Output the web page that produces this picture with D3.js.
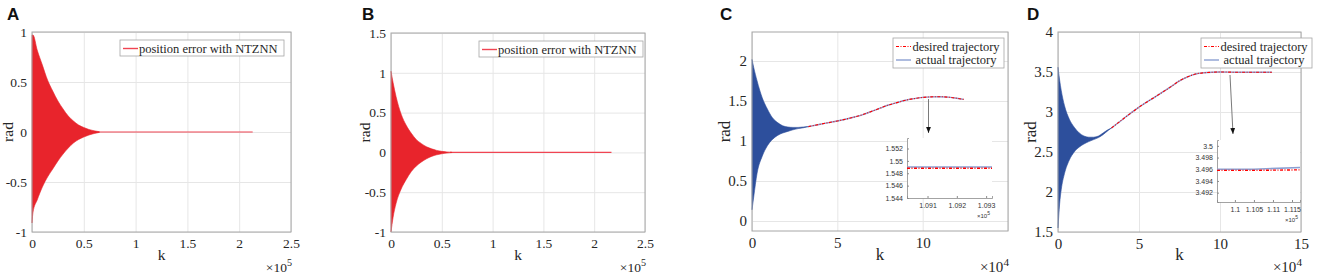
<!DOCTYPE html>
<html>
<head>
<meta charset="utf-8">
<script src="https://cdn.jsdelivr.net/npm/d3@7"></script>
<style>
  body { margin: 0; background: #fff; }
</style>
</head>
<body>
<svg id="fig" width="1325" height="277"></svg>
<script>
// ---- panel A : position error (k in 1e5) ----
const aEnvK   = [0, 0.01, 0.05, 0.1, 0.15, 0.2, 0.25, 0.3, 0.35, 0.4, 0.45, 0.5, 0.55, 0.6, 0.65];
const aUpper  = [0.97, 0.97, 0.82, 0.67, 0.52, 0.41, 0.31, 0.23, 0.16, 0.11, 0.07, 0.045, 0.025, 0.012, 0.003];
const aLower  = [-0.91, -0.80, -0.68, -0.55, -0.45, -0.37, -0.29, -0.22, -0.16, -0.11, -0.075, -0.05, -0.03, -0.015, -0.004];
const aTailK  = [0.62, 2.13];
const aTailV  = [0, 0];

// ---- panel B ----
const bEnvK   = [0, 0.02, 0.05, 0.1, 0.15, 0.2, 0.25, 0.3, 0.35, 0.4, 0.45, 0.5, 0.55, 0.6];
const bUpper  = [1.02, 0.88, 0.70, 0.48, 0.34, 0.24, 0.16, 0.11, 0.07, 0.045, 0.025, 0.013, 0.006, 0.002];
const bLower  = [-1.0, -0.82, -0.64, -0.46, -0.34, -0.24, -0.17, -0.12, -0.08, -0.05, -0.03, -0.017, -0.008, -0.002];
const bTailK  = [0.58, 2.17];
const bTailV  = [0, 0];

// ---- panel C : trajectory (k in 1e4) ----
const cEnvK   = [0, 0.1, 0.3, 0.6, 0.9, 1.2, 1.5, 1.8, 2.1, 2.4, 2.7, 3.0, 3.3];
const cUpper  = [2.02, 1.92, 1.75, 1.54, 1.40, 1.29, 1.23, 1.19, 1.175, 1.17, 1.17, 1.175, 1.18];
const cLower  = [0.14, 0.30, 0.60, 0.81, 0.94, 1.02, 1.07, 1.10, 1.12, 1.14, 1.155, 1.165, 1.18];
const cTrajK  = [3.3, 4, 5, 6, 6.5, 7, 7.5, 8, 8.5, 9, 9.5, 10, 10.5, 11, 11.5, 12, 12.4];
const cTrajV  = [1.18, 1.21, 1.25, 1.30, 1.33, 1.37, 1.41, 1.45, 1.48, 1.51, 1.53, 1.545, 1.552, 1.554, 1.548, 1.535, 1.52];
const cInK       = [1.0903, 1.0932];          // inset, k in 1e5
const cInActual  = [1.549, 1.549];
const cInDesired = [1.5488, 1.5488];

// ---- panel D ----
const dEnvK   = [0, 0.1, 0.2, 0.4, 0.7, 1.0, 1.3, 1.6, 1.9, 2.2, 2.5, 2.8, 3.1, 3.3];
const dUpper  = [3.56, 3.40, 3.27, 3.08, 2.91, 2.81, 2.74, 2.70, 2.685, 2.685, 2.70, 2.74, 2.78, 2.80];
const dLower  = [1.55, 1.85, 2.03, 2.23, 2.40, 2.50, 2.56, 2.60, 2.63, 2.655, 2.68, 2.72, 2.77, 2.80];
const dTrajK  = [3.3, 4, 5, 6, 7, 7.5, 8, 8.5, 9, 9.5, 10, 11, 12, 13.2];
const dTrajV  = [2.80, 2.91, 3.06, 3.19, 3.32, 3.39, 3.44, 3.475, 3.49, 3.497, 3.5, 3.497, 3.496, 3.496];
const dInK       = [1.0953, 1.105, 1.1171];
const dInActual  = [3.496, 3.496, 3.4963];
const dInDesired = [3.4958, 3.4958, 3.4959];

// ticks
const abXTicks = [0, 0.5, 1, 1.5, 2, 2.5];
const aYTicks  = [-1, -0.5, 0, 0.5, 1];
const bYTicks  = [-1, -0.5, 0, 0.5, 1, 1.5];
const cXTicks  = [0, 5, 10, 15];
const cYTicks  = [0, 0.5, 1, 1.5, 2];
const dXTicks  = [0, 5, 10, 15];
const dYTicks  = [1.5, 2, 2.5, 3, 3.5, 4];

const SERIF = "'Liberation Serif', 'Times New Roman', serif";
const SANS = "'Liberation Sans', Arial, sans-serif";
const RED_FILL = "#e8242c", RED_LINE = "#f04452", BLUE_FILL = "#2d4f9c", BLUE_LINE = "#8b9fd2";
const DASHDOT = "3,1.5,1,1.5";

const svg = d3.select("#fig");
const defs = svg.append("defs");
defs.append("marker").attr("id", "arrow").attr("viewBox", "0 0 10 10")
  .attr("refX", 10).attr("refY", 5).attr("markerWidth", 6).attr("markerHeight", 6)
  .attr("orient", "auto-start-reverse")
  .append("path").attr("d", "M0,1 L10,5 L0,9 z").attr("fill", "#111");

const fmt = d => String(d);

function serifText(sel, size) {
  return sel.style("font-family", SERIF).style("font-size", size + "px").attr("fill", "#262626");
}

function panel(p) {
  const g = svg.append("g");
  const x = d3.scaleLinear().domain(p.xDomain).range([p.left, p.right]);
  const y = d3.scaleLinear().domain(p.yDomain).range([p.bottom, p.top]);
  const w = p.right - p.left, h = p.bottom - p.top;

  // grid
  const gx = g.append("g").attr("transform", `translate(0,${p.bottom})`)
    .call(d3.axisBottom(x).tickValues(p.xTicks).tickSize(-h).tickFormat(""));
  const gy = g.append("g").attr("transform", `translate(${p.left},0)`)
    .call(d3.axisLeft(y).tickValues(p.yTicks).tickSize(-w).tickFormat(""));
  [gx, gy].forEach(a => {
    a.select(".domain").remove();
    a.selectAll("line").attr("stroke", "#e6e6e6");
  });

  // tick labels
  const lx = g.append("g").attr("transform", `translate(0,${p.bottom})`)
    .call(d3.axisBottom(x).tickValues(p.xLabels || p.xTicks).tickSize(0).tickPadding(6).tickFormat(fmt));
  const ly = g.append("g").attr("transform", `translate(${p.left},0)`)
    .call(d3.axisLeft(y).tickValues(p.yTicks).tickSize(0).tickPadding(5).tickFormat(fmt));
  [lx, ly].forEach(a => {
    a.select(".domain").remove();
    serifText(a.selectAll("text"), p.fs);
  });

  // data
  const env = p.envK.map((k, i) => ({ k, hi: p.upper[i], lo: p.lower[i] }));
  const line = d3.line().x(d => x(d[0])).y(d => y(d[1])).curve(d3.curveMonotoneX);
  if (p.traj) {
    const tr = d3.zip(p.trajK, p.trajV);
    g.append("path").attr("d", line(tr)).attr("fill", "none").attr("stroke", BLUE_LINE).attr("stroke-width", 1.4);
    g.append("path").attr("d", line(tr)).attr("fill", "none").attr("stroke", "#ff0000")
      .attr("stroke-width", 1.1).attr("stroke-dasharray", DASHDOT);
  }
  if (p.tailK) {
    g.append("path").attr("d", line(d3.zip(p.tailK, p.tailV))).attr("fill", "none")
      .attr("stroke", RED_LINE).attr("stroke-width", 1.2);
  }
  g.append("path").datum(env)
    .attr("d", d3.area().x(d => x(d.k)).y0(d => y(d.lo)).y1(d => y(d.hi)).curve(d3.curveMonotoneX))
    .attr("fill", p.fill).attr("stroke", p.fill).attr("stroke-width", 0.6);

  // box
  g.append("rect").attr("x", p.left).attr("y", p.top).attr("width", w).attr("height", h)
    .attr("fill", "none").attr("stroke", "#a6a6a6").attr("stroke-width", 1);

  // axis titles
  serifText(g.append("text").attr("x", (p.left + p.right) / 2).attr("y", 260).attr("text-anchor", "middle"), p.fs + 2)
    .text("k");
  const ex = serifText(g.append("text").attr("x", p.right + 1).attr("y", 272).attr("text-anchor", "end"), p.fs);
  ex.append("tspan").text("\u00d710");
  ex.append("tspan").attr("dy", -6).style("font-size", (p.fs * 0.75) + "px").text(p.expo);
  serifText(g.append("text").attr("transform", `translate(${p.left - p.radOff},${(p.top + p.bottom) / 2}) rotate(-90)`)
    .attr("text-anchor", "middle"), p.fs + 2).text("rad");

  // panel letter
  g.append("text").attr("x", p.letterX).attr("y", 20)
    .style("font-family", SANS).style("font-weight", "bold")
    .style("font-size", "17px").attr("fill", "#111").text(p.letter);

  // legend
  const L = p.legend;
  g.append("rect").attr("x", L.x).attr("y", L.y).attr("width", L.w).attr("height", L.h)
    .attr("fill", "#fff").attr("stroke", "#a6a6a6").attr("stroke-width", 0.8);
  L.items.forEach((it, i) => {
    const cy = L.y + 8.5 + i * 13.5;
    g.append("line").attr("x1", L.x + 3).attr("x2", L.x + 18).attr("y1", cy).attr("y2", cy)
      .attr("stroke", it.color).attr("stroke-width", it.dash ? 1.2 : 1.4)
      .attr("stroke-dasharray", it.dash || null);
    serifText(g.append("text").attr("x", L.tx).attr("y", cy + 4)
      .attr("text-anchor", L.anchor || "start"), 12.5).text(it.label);
  });

  if (p.inset) drawInset(g, p.inset);
}

function drawInset(g, s) {
  const ig = g.append("g");
  const x = d3.scaleLinear().domain(s.xDomain).range([s.left, s.right]);
  const y = d3.scaleLinear().domain(s.yDomain).range([s.bottom, s.top]);
  ig.append("rect").attr("x", s.left).attr("y", s.top).attr("width", s.right - s.left)
    .attr("height", s.bottom - s.top).attr("fill", "#fff");
  const ax = ig.append("g").attr("transform", `translate(0,${s.bottom})`)
    .call(d3.axisBottom(x).tickValues(s.xTicks).tickSize(-2).tickPadding(5).tickFormat(fmt));
  const ay = ig.append("g").attr("transform", `translate(${s.left},0)`)
    .call(d3.axisLeft(y).tickValues(s.yTicks).tickSize(-2).tickPadding(4).tickFormat(fmt));
  [ax, ay].forEach(a => {
    a.select(".domain").attr("stroke", "#8c8c8c").attr("stroke-width", 0.8);
    a.selectAll("line").attr("stroke", "#8c8c8c");
    a.selectAll("text").style("font-family", SANS).style("font-size", "7px").attr("fill", "#333");
  });
  const line = d3.line().x(d => x(d[0])).y(d => y(d[1]));
  ig.append("path").attr("d", line(d3.zip(s.k, s.actual))).attr("fill", "none")
    .attr("stroke", BLUE_LINE).attr("stroke-width", 1.6);
  ig.append("path").attr("d", line(d3.zip(s.k, s.desired))).attr("fill", "none")
    .attr("stroke", "#ff0000").attr("stroke-width", 1.4).attr("stroke-dasharray", DASHDOT);
  const ex = ig.append("text").attr("x", s.right - 2).attr("y", s.bottom + 20)
    .attr("text-anchor", "end").style("font-family", SANS).style("font-size", "6px").attr("fill", "#333");
  ex.append("tspan").text("\u00d710");
  ex.append("tspan").attr("dy", -3).style("font-size", "5px").text("5");
  // arrow from the main curve to the inset
  ig.append("line").attr("x1", s.arrow[0]).attr("y1", s.arrow[1]).attr("x2", s.arrow[2]).attr("y2", s.arrow[3])
    .attr("stroke", "#7a7a7a").attr("stroke-width", 1).attr("marker-end", "url(#arrow)");
}

panel({
  letter: "A", letterX: 7, left: 32, right: 291, top: 32, bottom: 232, fs: 13.5, radOff: 19,
  xDomain: [0, 2.5], yDomain: [-1, 1], xTicks: abXTicks, yTicks: aYTicks, expo: "5",
  envK: aEnvK, upper: aUpper, lower: aLower, tailK: aTailK, tailV: aTailV, fill: RED_FILL,
  legend: { x: 120, y: 40, w: 164, h: 16, tx: 139, items: [{ label: "position error with NTZNN", color: RED_LINE }] }
});
panel({
  letter: "B", letterX: 362, left: 391, right: 645, top: 33, bottom: 232, fs: 13.5, radOff: 21,
  xDomain: [0, 2.5], yDomain: [-1, 1.5], xTicks: abXTicks, yTicks: bYTicks, expo: "5",
  envK: bEnvK, upper: bUpper, lower: bLower, tailK: bTailK, tailV: bTailV, fill: RED_FILL,
  legend: { x: 479, y: 41, w: 164, h: 16, tx: 498, items: [{ label: "position error with NTZNN", color: RED_LINE }] }
});

const trajItems = [
  { label: "desired trajectory", color: "#ff0000", dash: DASHDOT },
  { label: "actual trajectory", color: BLUE_LINE }
];
panel({
  letter: "C", letterX: 720, left: 752, right: 1008, top: 32, bottom: 231, fs: 15, radOff: 22,
  xDomain: [0, 15], yDomain: [-0.125, 2.3625], xTicks: cXTicks, xLabels: [0, 5, 10], yTicks: cYTicks, expo: "4",
  envK: cEnvK, upper: cUpper, lower: cLower, traj: true, trajK: cTrajK, trajV: cTrajV, fill: BLUE_FILL,
  legend: { x: 893, y: 38, w: 111, h: 30, tx: 956, anchor: "middle", items: trajItems },
  inset: {
    left: 907, right: 992, top: 138, bottom: 198, xDomain: [1.0903, 1.0932], yDomain: [1.544, 1.5537],
    xTicks: [1.091, 1.092, 1.093], yTicks: [1.544, 1.546, 1.548, 1.55, 1.552],
    k: cInK, actual: cInActual, desired: cInDesired, arrow: [928.5, 99, 928.5, 133]
  }
});
panel({
  letter: "D", letterX: 1027, left: 1058, right: 1301, top: 32, bottom: 232, fs: 15, radOff: 22,
  xDomain: [0, 15], yDomain: [1.5, 4], xTicks: dXTicks, yTicks: dYTicks, expo: "4",
  envK: dEnvK, upper: dUpper, lower: dLower, traj: true, trajK: dTrajK, trajV: dTrajV, fill: BLUE_FILL,
  legend: { x: 1201, y: 38, w: 111, h: 30, tx: 1264, anchor: "middle", items: trajItems },
  inset: {
    left: 1217, right: 1300, top: 140, bottom: 202, xDomain: [1.0953, 1.1171], yDomain: [3.4904, 3.501],
    xTicks: [1.1, 1.105, 1.11, 1.115], yTicks: [3.492, 3.494, 3.496, 3.498, 3.5],
    k: dInK, actual: dInActual, desired: dInDesired, arrow: [1230, 75, 1233, 134]
  }
});
</script>
</body>
</html>
